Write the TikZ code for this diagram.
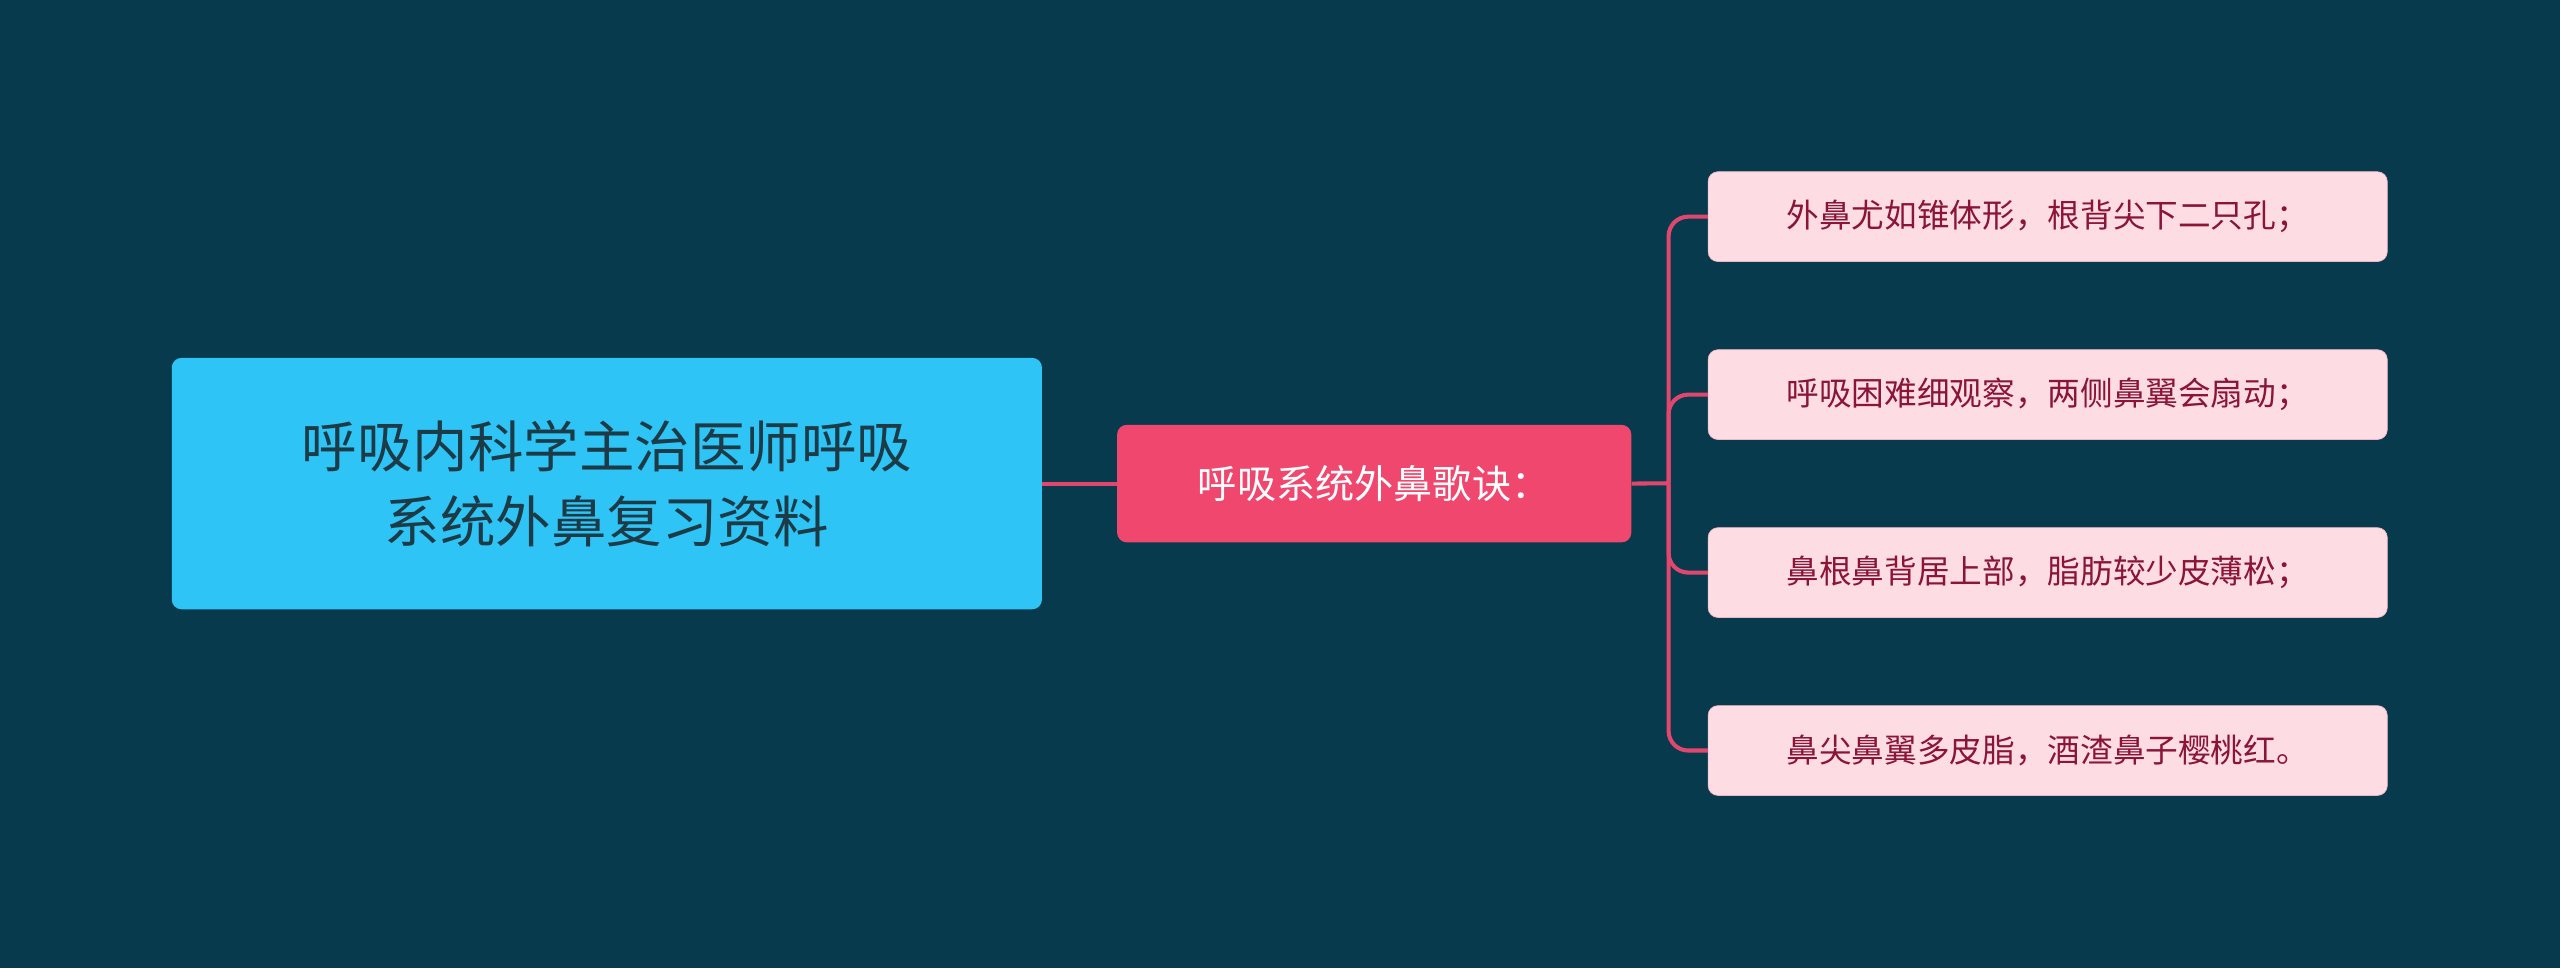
\documentclass[tikz,border=0pt]{standalone}
\usepackage{fontspec}
\newfontfamily\cjk{Noto Sans CJK SC}
\definecolor{bg}{HTML}{073A4C}
\definecolor{rootc}{HTML}{2EC4F5}
\definecolor{midc}{HTML}{F0476F}
\definecolor{leafc}{HTML}{FDDDE3}
\definecolor{leaft}{HTML}{8A1538}
\definecolor{linec}{HTML}{E0466E}
\definecolor{roott}{HTML}{1D3B47}
\begin{document}
\begin{tikzpicture}[x=1pt,y=-1pt,
 box/.style={rounded corners=6pt,inner sep=0pt,anchor=north west},
 conn/.style={draw=linec,line width=2.5pt}]
\fill[bg] (0,0) rectangle (1568,593);
\useasboundingbox (0,0) rectangle (1568,593);
\node[box,fill=rootc,minimum width=533pt,minimum height=154pt,text=roott,font=\cjk\fontsize{34}{46}\selectfont,align=center] (root) at (105,219) {呼吸内科学主治医师呼吸\\系统外鼻复习资料};
\node[box,fill=midc,minimum width=315pt,minimum height=72pt,text=white,font=\cjk\fontsize{24}{30}\selectfont] (mid) at (684,260) {呼吸系统外鼻歌诀：};
\foreach \i/\y/\t in {1/105/外鼻尤如锥体形，根背尖下二只孔；,2/214/呼吸困难细观察，两侧鼻翼会扇动；,3/323/鼻根鼻背居上部，脂肪较少皮薄松；,4/432/鼻尖鼻翼多皮脂，酒渣鼻子樱桃红。}{
 \node[box,fill=leafc,draw=linec!40,minimum width=416pt,minimum height=55pt,text=leaft,font=\cjk\fontsize{20}{24}\selectfont] (l\i) at (1046,\y) {\t};
}
\draw[conn] (root.east) -- (mid.west);
\coordinate (bus) at (1022,296);
\draw[conn] (mid.east) -- (bus);
\foreach \i in {1,2,3,4}{
 \draw[conn,rounded corners=12pt] (bus) -- (bus |- l\i.west) -- (l\i.west);
}
\end{tikzpicture}
\end{document}
